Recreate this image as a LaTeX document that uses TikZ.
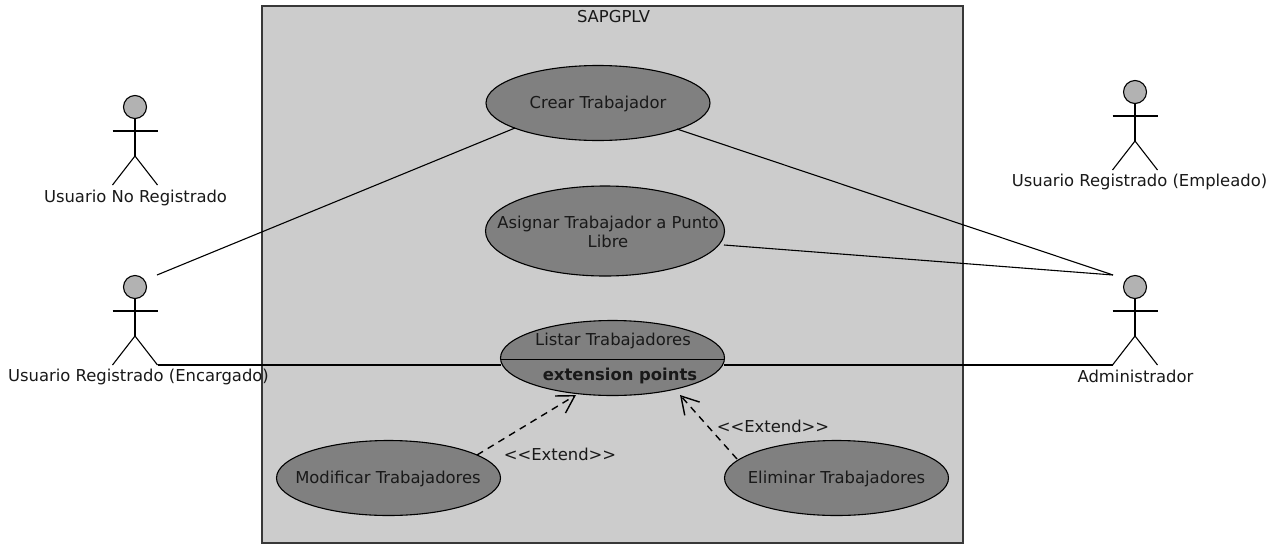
\documentclass[tikz,border=0pt]{standalone}
\usepackage{fontspec}
\setmainfont{DejaVu Sans}
\usetikzlibrary{shapes.geometric,arrows.meta}
\definecolor{sysbg}{gray}{0.8}
\definecolor{uc}{gray}{0.5}
\definecolor{head}{gray}{0.7}
\tikzset{x=1pt,y=-1pt,
 usecase/.style={draw=black,fill=uc,ellipse,inner sep=0pt,line width=1.1pt},
 lbl/.style={font=\fontsize{16.4}{19}\selectfont,text=black!90,inner sep=0pt,align=center},
 assoc/.style={draw=black,line width=1.1pt},
 ext/.style={draw=black,line width=1.4pt,dash pattern=on 7pt off 5.5pt,-{Straight Barb[length=17pt,width=20pt]}}}
\newcommand{\actor}[3]{%
 \begin{scope}[shift={(#1,#2)}]
 \node[circle,draw=black,fill=head,minimum size=23pt,inner sep=0pt,line width=1.1pt] (#3h) at (0,-49) {};
 \draw[line width=1.1pt] (#3h.south) -- (0,0);
 \draw[line width=1.1pt] (-22.5,-25) -- (22.5,-25);
 \draw[line width=1.1pt] (-22.5,29) -- (0,0) -- (22.5,29);
 \end{scope}}
\begin{document}
\begin{tikzpicture}
\useasboundingbox (0,0) rectangle (1281,544);
\node[draw=black!78,fill=sysbg,line width=2pt,minimum width=701pt,minimum height=537pt,inner sep=0pt] (sys) at (612,274.5) {};
\node[lbl] (t) at (613.5,16.5) {SAPGPLV};
\node[usecase,minimum width=224pt,minimum height=75pt] (crear) at (598,103) {};
\node[lbl] at (598,104) {Crear Trabajador};
\node[usecase,minimum width=239pt,minimum height=90pt] (asig) at (605,231) {};
\node[lbl] at (608,231.5) {Asignar Trabajador a Punto\\Libre};
\node[usecase,minimum width=224pt,minimum height=75pt] (listar) at (612.5,358) {};
\draw[line width=0.7pt] (501,359) -- (724,359);
\node[lbl] at (613,341) {Listar Trabajadores};
\node[lbl,font=\fontsize{16.4}{19}\selectfont\bfseries] at (620,376) {extension points};
\node[usecase,minimum width=224pt,minimum height=75pt] (mod) at (388.5,478) {};
\node[lbl] at (388,479) {Modificar Trabajadores};
\node[usecase,minimum width=224pt,minimum height=75pt] (elim) at (836.5,478) {};
\node[lbl] at (836.5,479) {Eliminar Trabajadores};
\actor{135}{156}{a}
\node[lbl] (anr) at (135.5,198) {Usuario No Registrado};
\actor{1135}{141}{b}
\node[lbl] (are) at (1139.5,182) {Usuario Registrado (Empleado)};
\actor{135}{336}{c}
\coordinate (cc) at (157,275);
\coordinate (cr) at (158,365);
\actor{1135}{336}{d}
\coordinate (dl) at (1113,275);
\coordinate (dr) at (1113,365);
\draw[assoc] (cc) -- (515,128);
\draw[assoc] (cr) -- (501,365);
\draw[assoc] (dl) -- (677,129);
\draw[assoc] (dl) -- (724,245);
\draw[assoc] (dr) -- (724,365);
\node[lbl] (aen) at (138.5,377) {Usuario Registrado (Encargado)};
\node[lbl] (adm) at (1135.5,376) {Administrador};
\coordinate (e1) at (477,455);
\coordinate (e2) at (737,459);
\draw[ext] (e1) -- (576,395);
\draw[ext] (e2) -- (680,395);
\node[lbl] at (560,454) {<{}<Extend>{}>};
\node[lbl] at (773,426) {<{}<Extend>{}>};
\end{tikzpicture}
\end{document}
